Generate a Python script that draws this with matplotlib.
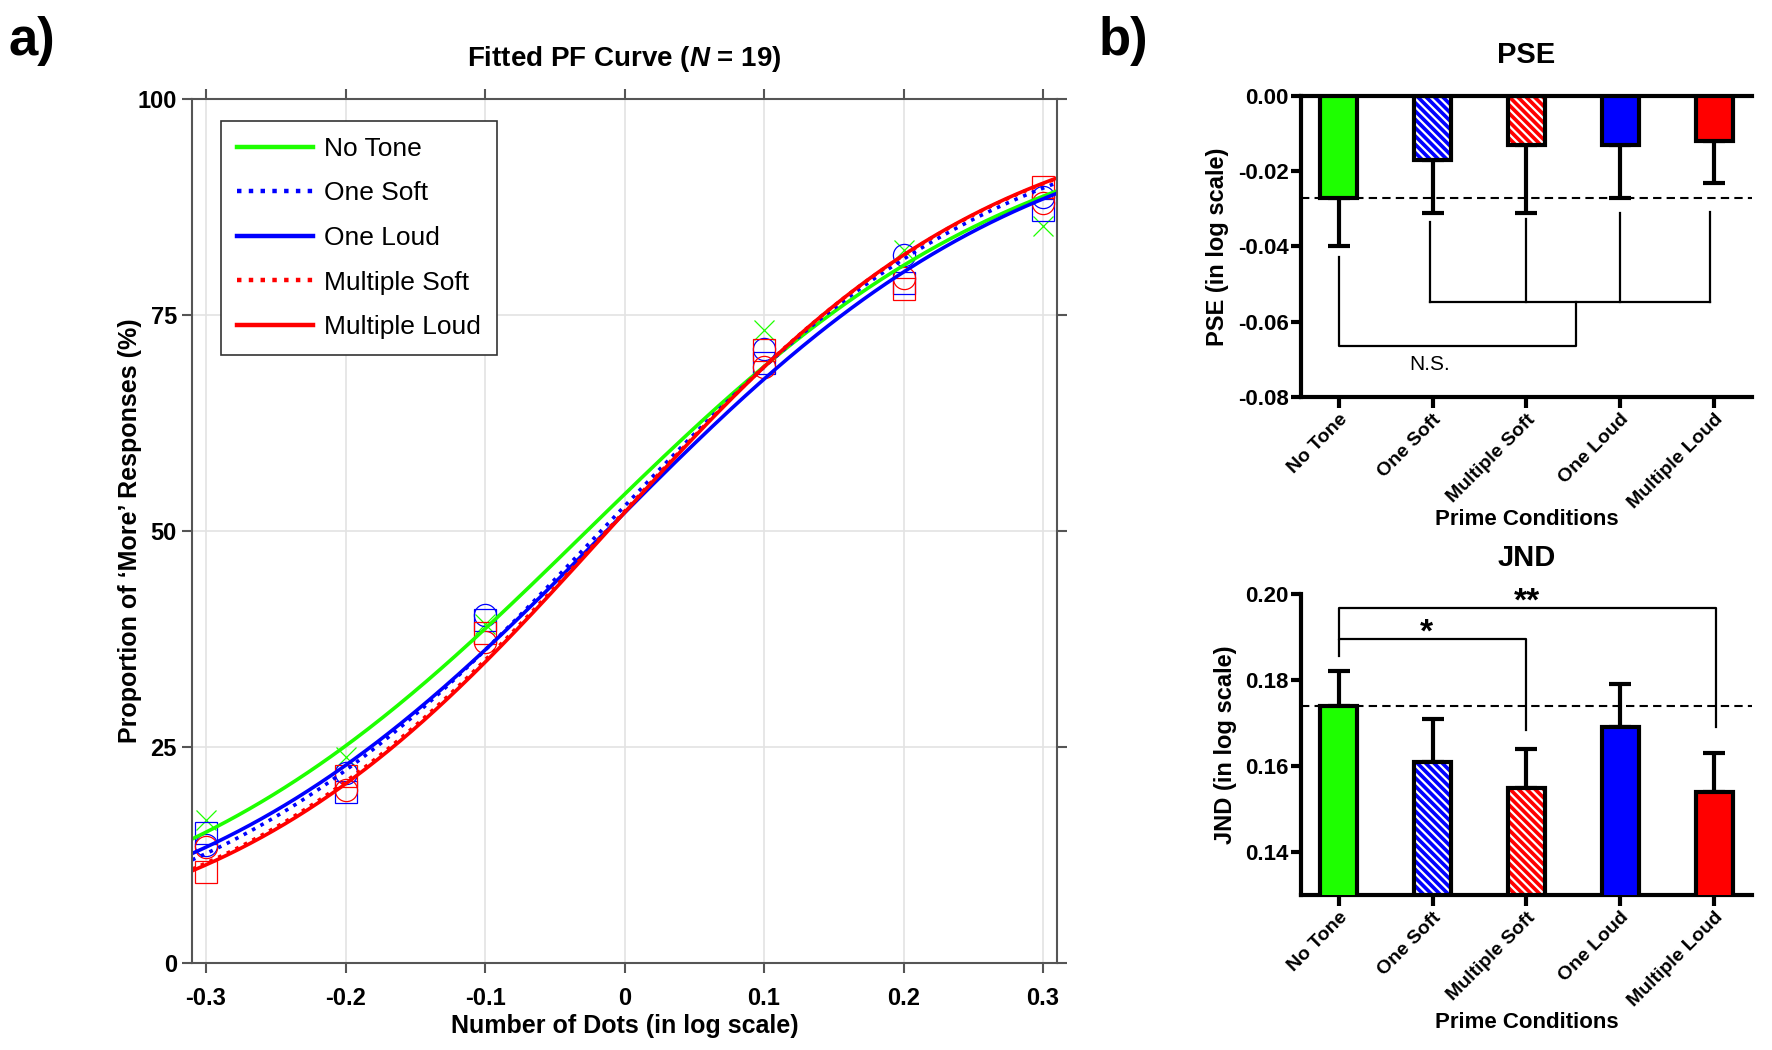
import math
import numpy as np
import matplotlib
matplotlib.use("Agg")
import matplotlib.pyplot as plt

plt.rcParams['font.family'] = ['Liberation Sans', 'DejaVu Sans']
plt.rcParams['axes.unicode_minus'] = False
plt.rcParams['mathtext.fontset'] = 'custom'
plt.rcParams['mathtext.it'] = 'Liberation Sans:italic:bold'
plt.rcParams['mathtext.rm'] = 'Liberation Sans:bold'
plt.rcParams['hatch.linewidth'] = 1.6

# ---- data ----
conditions = ["No Tone", "One Soft", "Multiple Soft", "One Loud", "Multiple Loud"]
pse_mean = [-0.027, -0.017, -0.013, -0.013, -0.012]
pse_sem = [0.013, 0.014, 0.018, 0.014, 0.011]
jnd_mean = [0.174, 0.161, 0.155, 0.169, 0.154]
jnd_sem = [0.008, 0.010, 0.009, 0.010, 0.009]

stim_levels = [-0.3, -0.2, -0.1, 0.1, 0.2, 0.3]
obs_no_tone = [16.5, 23.8, 39.2, 73.3, 82.5, 85.3]
obs_one_soft = [13.6, 22.0, 40.3, 71.1, 82.0, 88.7]
obs_one_loud = [15.0, 19.8, 39.7, 69.4, 78.7, 87.1]
obs_mult_soft = [13.4, 20.0, 37.2, 69.0, 79.3, 88.0]
obs_mult_loud = [10.5, 21.6, 38.2, 71.0, 78.0, 89.8]

green = '#1eff00'
blue = '#0000ff'
red = '#ff0000'
bar_colors = [green, blue, red, blue, red]
bar_hatch = [None, '\\\\\\\\', '\\\\\\\\', None, None]


def pf_curve(x, pse, jnd):
    # logistic PF, JND = 75% point - 50% point
    beta = jnd / math.log(3)
    return 100 / (1 + np.exp(-(x - pse) / beta))


fig = plt.figure(figsize=(17.72, 10.5), dpi=100)

# ---------- panel a ----------
ax = fig.add_axes([0.1084, 0.0829, 0.4881, 0.8228])
xs = np.linspace(-0.31, 0.31, 300)
series = [
    ("No Tone", 0, green, '-', 'x', obs_no_tone),
    ("One Soft", 1, blue, ':', 'o', obs_one_soft),
    ("One Loud", 3, blue, '-', 's', obs_one_loud),
    ("Multiple Soft", 2, red, ':', 'o', obs_mult_soft),
    ("Multiple Loud", 4, red, '-', 's', obs_mult_loud),
]
for name, i, col, ls, mk, obs in series:
    ax.plot(stim_levels, obs, linestyle='none', marker=mk, markersize=16 if mk != 'x' else 14,
            markerfacecolor='none', markeredgecolor=col, markeredgewidth=0.9)
for name, i, col, ls, mk, obs in series:
    ax.plot(xs, pf_curve(xs, pse_mean[i], jnd_mean[i]), color=col, linestyle=ls,
            linewidth=2.6, label=name)

ax.set_xlim(-0.31, 0.31)
ax.set_ylim(0, 100)
ax.set_xticks([-0.3, -0.2, -0.1, 0, 0.1, 0.2, 0.3])
ax.set_xticklabels(["-0.3", "-0.2", "-0.1", "0", "0.1", "0.2", "0.3"])
ax.set_yticks([0, 25, 50, 75, 100])
ax.grid(True, color='#e3e3e3', linewidth=1.2)
ax.set_axisbelow(True)
for s in ax.spines.values():
    s.set_color('#555555')
    s.set_linewidth(1.5)
ax.tick_params(direction='out', length=7, width=1.5, color='#555555',
               top=True, right=True, labelsize=17, pad=4)
ax.tick_params(axis='x', pad=10)
for lab in ax.get_xticklabels() + ax.get_yticklabels():
    lab.set_fontweight('bold')
ax.set_xlabel("Number of Dots (in log scale)", fontsize=18, fontweight='bold', labelpad=3)
ax.set_ylabel("Proportion of \u2018More\u2019 Responses (%)", fontsize=18, fontweight='bold', labelpad=-3)
ax.set_title("Fitted PF Curve ($\\it{N}$ = 19)", fontsize=20, fontweight='bold', pad=24)
leg = ax.legend(loc='upper left', bbox_to_anchor=(0.0335, 0.9745), borderaxespad=0,
                fontsize=19, handlelength=2.9, handletextpad=0.4, labelspacing=0.78,
                fancybox=False, framealpha=1, edgecolor='#333333', borderpad=0.6)
leg.get_frame().set_linewidth(1.2)
for ln in leg.get_lines():
    ln.set_linewidth(3.2)

fig.text(0.005, 0.985, "a)", fontsize=38, fontweight='bold', va='top', ha='left')
fig.text(0.620, 0.985, "b)", fontsize=38, fontweight='bold', va='top', ha='left')

# ---------- panel b helpers ----------
xpos = np.arange(len(conditions))


def draw_bars(axb, means, sems, lower):
    for i in range(len(means)):
        if bar_hatch[i]:
            axb.bar(xpos[i], means[i], width=0.4, color=bar_colors[i], edgecolor='white',
                    hatch=bar_hatch[i], linewidth=0, zorder=2)
            axb.bar(xpos[i], means[i], width=0.4, color='none', edgecolor='black',
                    linewidth=3, zorder=3)
        else:
            axb.bar(xpos[i], means[i], width=0.4, color=bar_colors[i], edgecolor='black',
                    linewidth=3, zorder=3)
        yerr = [[sems[i]], [0]] if lower else [[0], [sems[i]]]
        axb.errorbar(xpos[i], means[i], yerr=yerr, color='black', elinewidth=3,
                     capsize=8, capthick=3, zorder=1)


def style_b(axb, title, tpad, xlpad):
    axb.set_xlim(-0.4, 4.4)
    axb.spines['right'].set_visible(False)
    for s in ['left', 'bottom', 'top']:
        axb.spines[s].set_linewidth(3)
    axb.set_xticks(xpos)
    axb.set_xticklabels(conditions, rotation=45, ha='right', rotation_mode='anchor')
    axb.tick_params(axis='x', direction='out', length=8, width=3, labelsize=14, pad=2)
    axb.tick_params(axis='y', direction='out', length=7, width=3, labelsize=16, pad=2)
    for lab in axb.get_xticklabels() + axb.get_yticklabels():
        lab.set_fontweight('bold')
    axb.set_xlabel("Prime Conditions", fontsize=16, fontweight='bold', labelpad=xlpad)
    axb.set_title(title, fontsize=21, fontweight='bold', pad=tpad)


# ---------- PSE ----------
ax1 = fig.add_axes([0.7342, 0.6219, 0.2545, 0.2867])
draw_bars(ax1, pse_mean, pse_sem, lower=True)
ax1.set_ylim(-0.08, 0.0)
ax1.set_yticks([0.0, -0.02, -0.04, -0.06, -0.08])
ax1.set_yticklabels(["0.00", "-0.02", "-0.04", "-0.06", "-0.08"])
ax1.axhline(pse_mean[0], color='black', linestyle=(0, (4, 2.5)), linewidth=1.5, zorder=4)
style_b(ax1, "PSE", 24, -2)
ax1.set_ylabel("PSE (in log scale)", fontsize=17, fontweight='bold', labelpad=6)
bk = dict(color='black', linewidth=1.6, zorder=1)
ax1.plot([0, 0, 2.53, 2.53], [-0.0428, -0.0665, -0.0665, -0.0548], **bk)
ax1.plot([0.97, 3.95], [-0.0548, -0.0548], **bk)
for xv, ytop in [(0.97, -0.0335), (2.0, -0.0327), (3.0, -0.0311), (3.95, -0.0309)]:
    ax1.plot([xv, xv], [ytop, -0.0548], **bk)
ax1.text(0.97, -0.0713, "N.S.", fontsize=15, ha='center', va='center')

# ---------- JND ----------
ax2 = fig.add_axes([0.7342, 0.1476, 0.2545, 0.2867])
draw_bars(ax2, jnd_mean, jnd_sem, lower=False)
ax2.set_ylim(0.13, 0.20)
ax2.set_yticks([0.14, 0.16, 0.18, 0.20])
ax2.set_yticklabels(["0.14", "0.16", "0.18", "0.20"])
ax2.axhline(jnd_mean[0], color='black', linestyle=(0, (4, 2.5)), linewidth=1.5, zorder=4)
style_b(ax2, "JND", 20, 1)
ax2.spines['top'].set_visible(False)
ax2.set_ylabel("JND (in log scale)", fontsize=17, fontweight='bold', labelpad=6)
ax2.plot([0, 0, 2.0, 2.0], [0.1856, 0.1895, 0.1895, 0.1684], **bk)
ax2.plot([0, 0, 4.02, 4.02], [0.1895, 0.1967, 0.1967, 0.1690], **bk)
ax2.text(0.94, 0.1889, "*", fontsize=24, fontweight='bold', ha='center', va='baseline')
ax2.text(2.0, 0.1961, "**", fontsize=24, fontweight='bold', ha='center', va='baseline')

fig.savefig("out.png", dpi=100)
